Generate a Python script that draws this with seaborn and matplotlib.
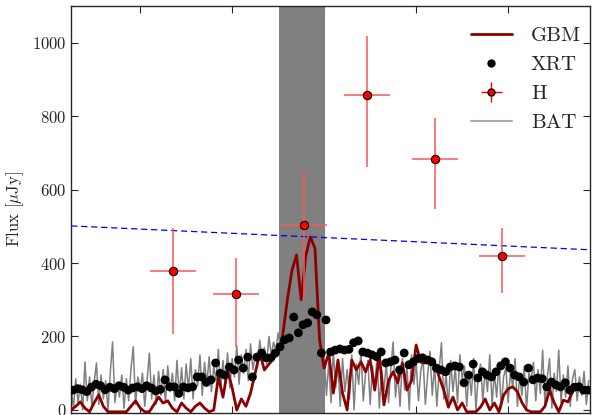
import numpy as np
import pandas as pd
import matplotlib
matplotlib.use("Agg")
import matplotlib.pyplot as plt
import seaborn as sns
from matplotlib.lines import Line2D

# ---- data ----
# XRT: regular time bins
xrt_t0, xrt_dt = -73.0, 5.0
xrt_flux = [54, 58, 55, 50, 62, 70, 66, 55, 62, 58,
            66, 62, 54, 60, 63, 58, 66, 60, 52, 56,
            82, 63, 63, 45, 63, 60, 63, 90, 90, 75,
            82, 128, 100, 95, 117, 109, 136, 114, 144, 90,
            144, 155, 142, 142, 155, 172, 191, 196, 253, 210,
            232, 237, 267, 259, 155, 245, 158, 163, 166, 163,
            165, 183, 188, 158, 155, 150, 145, 158, 128, 131,
            136, 109, 155, 123, 131, 140, 142, 136, 131, 114,
            109, 104, 117, 120, 117, 74, 95, 125, 87, 104,
            95, 90, 104, 120, 131, 114, 95, 90, 76, 114,
            82, 87, 85, 63, 76, 68, 63, 74, 54, 62,
            63, 54, 54]

# GBM
gbm_t0, gbm_dt = -75.0, 5.0
gbm_flux = [0, 10, 22, 5, -5, 20, 41, 10, -5, -5,
            -5, -5, -5, 10, 25, 5, -5, -5, 15, 35,
            19, 25, 5, -5, 19, 5, -5, 10, 19, 5,
            -5, 0, 90, 35, 109, 60, 0, 30, 10, 46,
            100, 155, 109, 125, 140, 155, 204, 300, 380, 422,
            300, 420, 471, 440, 191, 114, 155, 46, 136, 46,
            0, 136, 109, 131, 104, 136, 54, 150, 14, 80,
            104, 74, 128, 54, 80, 177, 130, 128, 142, 128,
            90, 54, 8, 35, 0, 19, -5, -5, -5, 8,
            30, 0, 19, -5, 40, 58, 63, 50, 20, 0,
            -5, -5, -5, 10, 54, 20, -5, 27, 22, 49]

# BAT
bat_t0, bat_dt = -75.0, 2.5
bat_flux = [60, 5, 85, 20, 70, 0, 131, 25, 90, 10,
            75, 128, 15, 95, 30, 80, 0, 100, 185, 20,
            70, 35, 95, 5, 85, 25, 110, 172, 15, 90,
            55, 100, 10, 80, 155, 30, 95, 15, 105, 40,
            110, 20, 120, 50, 100, 25, 135, 40, 115, 30,
            125, 55, 140, 30, 110, 65, 150, 40, 130, 70,
            145, 50, 120, 80, 165, 55, 135, 75, 155, 60,
            140, 90, 175, 70, 150, 100, 165, 80, 180, 110,
            150, 115, 190, 140, 170, 125, 200, 150, 185, 160,
            210, 170, 230, 190, 250, 200, 240, 220, 260, 210,
            250, 230, 240, 200, 220, 190, 210, 170, 190, 160,
            150, 40, 130, 20, 160, 60, 120, 10, 140, 50,
            110, 30, 150, 0, 125, 70, 160, 25, 100, 135,
            15, 120, 60, 145, 5, 110, 50, 130, 20, 115,
            185, 35, 100, 10, 140, 55, 120, 0, 150, 70,
            130, 25, 105, 140, 15, 95, 160, 40, 120, 10,
            110, 183, 30, 100, 5, 135, 50, 115, 20, 150,
            85, 120, 10, 105, 40, 140, 0, 95, 125, 25,
            110, 50, 150, 15, 100, 35, 130, 5, 90, 115,
            20, 105, 60, 140, 10, 95, 40, 120, 0, 100,
            85, 130, 25, 110, 45, 163, 15, 90, 140, 5,
            100, 50, 163, 20, 95, 35, 120, 10, 85, 110,
            25, 90, 40, 105, 15, 80]

# H band photometry
h_time = [36, 104, 178, 247, 320, 393]
h_terr = [25, 25, 25, 25, 25, 25]
h_flux = [379, 316, 504, 858, 684, 420]
h_err_lo = [172, 144, 204, 196, 136, 101]
h_err_hi = [117, 98, 145, 161, 112, 76]

# fitted model line (dashed blue)
fit_time = [-75, 489]
fit_flux = [501, 436]

shade_range = (151, 201)

# ---- frames ----
xrt = pd.DataFrame({"t": xrt_t0 + xrt_dt * np.arange(len(xrt_flux)), "flux": xrt_flux})
gbm = pd.DataFrame({"t": gbm_t0 + gbm_dt * np.arange(len(gbm_flux)), "flux": gbm_flux})
bat = pd.DataFrame({"t": bat_t0 + bat_dt * np.arange(len(bat_flux)), "flux": bat_flux})
fit = pd.DataFrame({"t": fit_time, "flux": fit_flux})

sns.set_style("ticks")
plt.rcParams["font.family"] = ["cmr10", "DejaVu Serif"]
plt.rcParams["mathtext.fontset"] = "cm"
plt.rcParams["axes.formatter.use_mathtext"] = True

fig = plt.figure(figsize=(5.93, 4.15), dpi=100)
ax = fig.add_axes([0.12, 0.005, 0.875, 0.981])

sns.lineplot(data=bat, x="t", y="flux", ax=ax, color="gray", lw=1.1,
             estimator=None, sort=False, zorder=1)
ax.axvspan(*shade_range, color="gray", lw=0, zorder=2)
sns.lineplot(data=gbm, x="t", y="flux", ax=ax, color="#8b0000", lw=2.0,
             estimator=None, sort=False, zorder=4)
sns.scatterplot(data=xrt, x="t", y="flux", ax=ax, color="black", s=40,
                edgecolor="none", zorder=5)
sns.lineplot(data=fit, x="t", y="flux", ax=ax, color="blue", lw=0.9,
             linestyle=(0, (5, 3)), zorder=3)
ax.errorbar(h_time, h_flux, xerr=h_terr, yerr=[h_err_lo, h_err_hi],
            fmt="o", color="red", ecolor="#ff5555", elinewidth=1.1,
            mfc="red", mec="black", mew=0.8, ms=6, capsize=0, zorder=6)

ax.set_xlim(-75, 489)
ax.set_ylim(-8, 1100)
ax.set_xticks([0, 100, 200, 300, 400])
ax.set_yticks([0, 200, 400, 600, 800, 1000])
ax.tick_params(direction="in", top=True, right=True, length=5, width=0.8,
               labelsize=12, labelbottom=False)
ax.set_xlabel("")
ax.set_ylabel(r"Flux [$\mu$Jy]", fontsize=12)
for s in ax.spines.values():
    s.set_linewidth(1.0)

h_leg = ax.errorbar([], [], xerr=[], yerr=[], fmt="o", color="red", ecolor="red",
                    mfc="red", mec="black", ms=5, elinewidth=1)
handles = [
    Line2D([], [], color="#8b0000", lw=2.0),
    Line2D([], [], color="black", marker="o", ls="none", ms=5),
    h_leg,
    Line2D([], [], color="#aaaaaa", lw=1.5),
]
ax.legend(handles, ["GBM", "XRT", "H", "BAT"], loc="upper right",
          bbox_to_anchor=(1.027, 1.005),
          frameon=False, fontsize=15, handlelength=2.0, borderaxespad=0.7,
          labelspacing=0.5, handletextpad=0.9)

fig.savefig("out.png", dpi=100)
